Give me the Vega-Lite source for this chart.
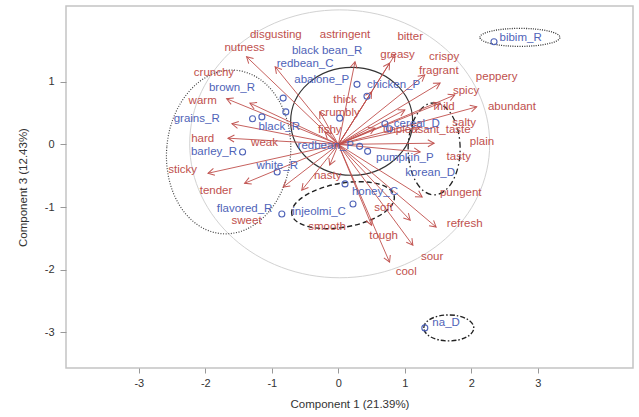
{
  "$schema": "https://vega.github.io/schema/vega-lite/v6.json",
  "width": 567,
  "height": 362,
  "autosize": {"type": "none"},
  "padding": {"left": 66, "top": 6, "right": 6, "bottom": 49},
  "background": "white",
  "config": {
    "view": {"stroke": "#c4c4c4", "strokeWidth": 1.5},
    "axis": {"grid": false, "domain": false, "tickColor": "#999999", "tickSize": 5, "labelColor": "#333333", "labelFont": "Liberation Sans", "labelFontSize": 11, "titleFont": "Liberation Sans", "titleFontSize": 11.5, "titleFontWeight": "normal", "titleColor": "#333333"}
  },
  "datasets": {
    "variables": [
      {"name": "disgusting", "x": -0.95, "y": 1.24, "lx": -0.94, "ly": 1.75},
      {"name": "astringent", "x": 0.25, "y": 1.32, "lx": 0.10, "ly": 1.75},
      {"name": "bitter", "x": 0.85, "y": 1.43, "lx": 1.08, "ly": 1.72},
      {"name": "nutness", "x": -1.38, "y": 1.40, "lx": -1.41, "ly": 1.54},
      {"name": "greasy", "x": 0.77, "y": 1.30, "lx": 0.89, "ly": 1.43},
      {"name": "crispy", "x": 1.30, "y": 1.11, "lx": 1.59, "ly": 1.39},
      {"name": "fragrant", "x": 1.53, "y": 0.98, "lx": 1.51, "ly": 1.17},
      {"name": "peppery", "x": 1.75, "y": 0.79, "lx": 2.38, "ly": 1.08},
      {"name": "crunchy", "x": -1.33, "y": 0.66, "lx": -1.87, "ly": 1.14},
      {"name": "spicy", "x": 1.53, "y": 0.66, "lx": 1.92, "ly": 0.85},
      {"name": "warm", "x": -1.68, "y": 0.73, "lx": -2.04, "ly": 0.69},
      {"name": "thick", "x": 0.50, "y": 0.84, "lx": 0.10, "ly": 0.71},
      {"name": "mild", "x": 1.00, "y": 0.55, "lx": 1.59, "ly": 0.60},
      {"name": "abundant", "x": 2.08, "y": 0.60, "lx": 2.61, "ly": 0.60},
      {"name": "crumbly", "x": -0.28, "y": 0.52, "lx": 0.02, "ly": 0.50},
      {"name": "salty", "x": 1.23, "y": 0.28, "lx": 1.89, "ly": 0.34},
      {"name": "fishy", "x": -0.20, "y": 0.20, "lx": -0.13, "ly": 0.23},
      {"name": "unpleasant_taste", "x": 0.55, "y": 0.26, "lx": 1.33, "ly": 0.23},
      {"name": "hard", "x": -1.66, "y": 0.10, "lx": -2.04, "ly": 0.09},
      {"name": "weak", "x": -1.60, "y": 0.33, "lx": -1.11, "ly": 0.02},
      {"name": "plain", "x": 1.44, "y": 0.02, "lx": 2.16, "ly": 0.04},
      {"name": "tasty", "x": 1.23, "y": -0.12, "lx": 1.81, "ly": -0.20},
      {"name": "sticky", "x": -1.96, "y": -0.46, "lx": -2.34, "ly": -0.41},
      {"name": "nasty", "x": -0.13, "y": -0.33, "lx": -0.16, "ly": -0.50},
      {"name": "tender", "x": -1.41, "y": -0.62, "lx": -1.84, "ly": -0.74},
      {"name": "pungent", "x": 1.26, "y": -0.84, "lx": 1.84, "ly": -0.78},
      {"name": "soft", "x": 1.08, "y": -1.21, "lx": 0.68, "ly": -1.02},
      {"name": "sweet", "x": -0.83, "y": -0.68, "lx": -1.38, "ly": -1.22},
      {"name": "smooth", "x": -0.55, "y": -0.73, "lx": -0.17, "ly": -1.32},
      {"name": "refresh", "x": 1.47, "y": -1.32, "lx": 1.90, "ly": -1.27},
      {"name": "tough", "x": 0.50, "y": -1.29, "lx": 0.68, "ly": -1.46},
      {"name": "sour", "x": 1.12, "y": -1.61, "lx": 1.41, "ly": -1.80},
      {"name": "cool", "x": 0.77, "y": -1.88, "lx": 1.02, "ly": -2.04}
    ],
    "samples": [
      {"x": 2.34, "y": 1.64}, {"x": 0.28, "y": 0.96}, {"x": 0.43, "y": 0.77},
      {"x": -0.83, "y": 0.74}, {"x": -0.79, "y": 0.52}, {"x": -1.29, "y": 0.41},
      {"x": -1.15, "y": 0.44}, {"x": 0.02, "y": 0.42}, {"x": 0.70, "y": 0.33},
      {"x": 0.77, "y": 0.25}, {"x": 0.32, "y": -0.03}, {"x": 0.44, "y": -0.11},
      {"x": -1.44, "y": -0.12}, {"x": -0.92, "y": -0.44}, {"x": -0.85, "y": -1.11},
      {"x": 0.10, "y": -0.63}, {"x": 0.22, "y": -0.95}, {"x": 1.30, "y": -2.93}
    ],
    "sample_labels": [
      {"name": "bibim_R", "x": 2.74, "y": 1.70},
      {"name": "black bean_R", "x": -0.17, "y": 1.49},
      {"name": "redbean_C", "x": -0.50, "y": 1.28},
      {"name": "abalone_P", "x": -0.25, "y": 1.03},
      {"name": "chicken_P", "x": 0.83, "y": 0.95},
      {"name": "brown_R", "x": -1.60, "y": 0.90},
      {"name": "grains_R", "x": -2.13, "y": 0.41},
      {"name": "black_R", "x": -0.89, "y": 0.28},
      {"name": "barley_R", "x": -1.87, "y": -0.12},
      {"name": "white_R", "x": -0.92, "y": -0.35},
      {"name": "redbean_P", "x": -0.19, "y": -0.03},
      {"name": "pumpkin_P", "x": 1.00, "y": -0.22},
      {"name": "korean_D", "x": 1.38, "y": -0.46},
      {"name": "cereal_D", "x": 1.18, "y": 0.33},
      {"name": "honey_C", "x": 0.55, "y": -0.76},
      {"name": "injeolmi_C", "x": -0.29, "y": -1.08},
      {"name": "flavored_R", "x": -1.41, "y": -1.03},
      {"name": "na_D", "x": 1.62, "y": -2.85}
    ]
  },
  "encoding": {
    "x": {"field": "x", "type": "quantitative", "scale": {"domain": [-4.095, 4.43], "nice": false, "zero": false},
      "axis": {"values": [-3, -2, -1, 0, 1, 2, 3], "labelExpr": "'' + datum.value", "labelPadding": 4, "titlePadding": 10, "title": "Component 1 (21.39%)"}},
    "y": {"field": "y", "type": "quantitative", "scale": {"domain": [-3.57, 2.211], "nice": false, "zero": false},
      "axis": {"values": [-3, -2, -1, 0, 1], "labelExpr": "'' + datum.value", "tickSize": 6, "labelPadding": 6, "titlePadding": 16, "title": "Component 3 (12.43%)"}}
  },
  "layer": [
    {"data": {"values": [{"group": "correlation circle", "x": 0.02, "y": 0.01}]},
      "mark": {"type": "point", "shape": "M-1,0A1,0.893 0 1,1 1,0A1,0.893 0 1,1 -1,0Z", "size": 90000, "filled": false, "stroke": "#d2d2d2", "strokeWidth": 1, "opacity": 1}},
    {"data": {"values": [{"group": "rice", "x": -1.65, "y": -0.12}]},
      "mark": {"type": "point", "shape": "M-0.756,0A0.756,1 0 1,1 0.756,0A0.756,1 0 1,1 -0.756,0Z", "size": 26896, "angle": 5, "filled": false, "stroke": "#444444", "strokeWidth": 1.2, "strokeDash": [1, 1.6], "opacity": 1}},
    {"data": {"values": [{"group": "porridge", "x": 0.20, "y": 0.37}]},
      "mark": {"type": "point", "shape": "M-1,0A1,0.885 0 1,1 1,0A1,0.885 0 1,1 -1,0Z", "size": 14884, "filled": false, "stroke": "#333333", "strokeWidth": 1.2, "opacity": 1}},
    {"data": {"values": [{"group": "drink", "x": 1.44, "y": -0.07}]},
      "mark": {"type": "point", "shape": "M-0.565,0A0.565,1 0 1,1 0.565,0A0.565,1 0 1,1 -0.565,0Z", "size": 8464, "filled": false, "stroke": "#222222", "strokeWidth": 1.3, "strokeDash": [6, 3, 1.5, 3], "opacity": 1}},
    {"data": {"values": [{"group": "cake", "x": 0.07, "y": -0.97}]},
      "mark": {"type": "point", "shape": "M-1,0A1,0.423 0 1,1 1,0A1,0.423 0 1,1 -1,0Z", "size": 10816, "angle": -10, "filled": false, "stroke": "#222222", "strokeWidth": 1.4, "strokeDash": [5, 3], "opacity": 1}},
    {"data": {"values": [{"group": "bibim", "x": 2.73, "y": 1.71}]},
      "mark": {"type": "point", "shape": "M-1,0A1,0.225 0 1,1 1,0A1,0.225 0 1,1 -1,0Z", "size": 6400, "filled": false, "stroke": "#333333", "strokeWidth": 1.3, "strokeDash": [1, 1.3], "opacity": 1}},
    {"data": {"values": [{"group": "na", "x": 1.66, "y": -2.93}]},
      "mark": {"type": "point", "shape": "M-1,0A1,0.52 0 1,1 1,0A1,0.52 0 1,1 -1,0Z", "size": 2500, "filled": false, "stroke": "#222222", "strokeWidth": 1.4, "strokeDash": [5, 2, 1.5, 2], "opacity": 1}},
    {"data": {"name": "variables"},
      "mark": {"type": "rule", "color": "#c0504d", "strokeWidth": 1, "opacity": 0.9},
      "encoding": {"x2": {"datum": 0}, "y2": {"datum": 0}}},
    {"data": {"name": "variables"},
      "transform": [{"calculate": "atan2(-datum.y * 62.6, datum.x * 66.5) * 180 / PI", "as": "ang"}],
      "mark": {"type": "point", "shape": "M-1.8,-1L0,0L-1.8,1", "size": 49, "filled": false, "stroke": "#c0504d", "strokeWidth": 1, "opacity": 0.95},
      "encoding": {"angle": {"field": "ang", "type": "quantitative", "scale": null}}},
    {"data": {"name": "variables"},
      "mark": {"type": "text", "color": "#c0504d", "font": "Liberation Sans", "fontSize": 11.5, "align": "center", "baseline": "middle"},
      "encoding": {
        "x": {"field": "lx", "type": "quantitative", "scale": {"domain": [-4.095, 4.43], "nice": false, "zero": false}},
        "y": {"field": "ly", "type": "quantitative", "scale": {"domain": [-3.57, 2.211], "nice": false, "zero": false}},
        "text": {"field": "name"}}},
    {"data": {"name": "samples"},
      "mark": {"type": "point", "shape": "circle", "size": 36, "filled": false, "stroke": "#4f63b8", "strokeWidth": 1.1, "opacity": 1}},
    {"data": {"name": "sample_labels"},
      "mark": {"type": "text", "color": "#4f63b8", "font": "Liberation Sans", "fontSize": 11.5, "align": "center", "baseline": "middle"},
      "encoding": {"text": {"field": "name"}}}
  ]
}
